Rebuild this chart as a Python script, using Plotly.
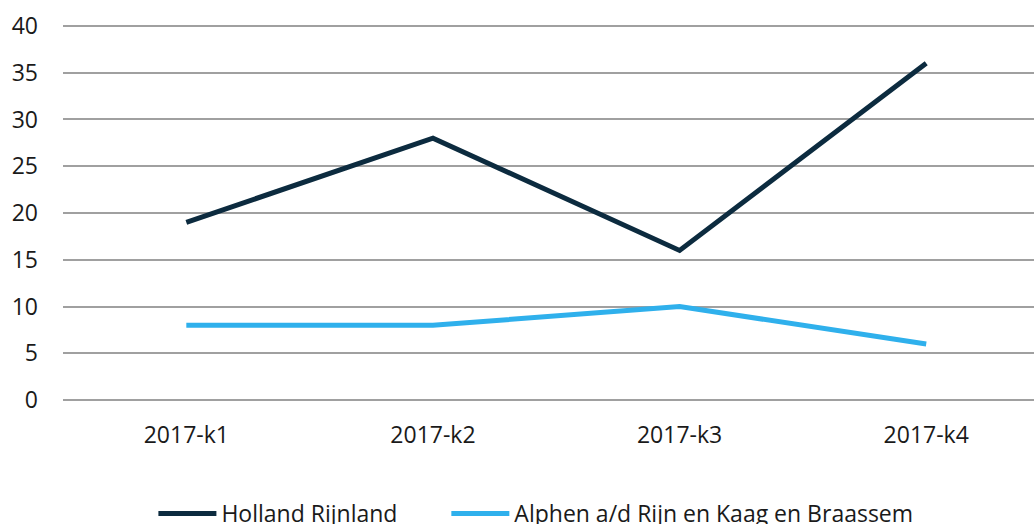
import plotly.graph_objects as go

categories = ["2017-k1", "2017-k2", "2017-k3", "2017-k4"]
holland_rijnland = [19, 28, 16, 36]
alphen = [8, 8, 10, 6]
y_ticks = [0, 5, 10, 15, 20, 25, 30, 35, 40]

fig = go.Figure()
fig.add_trace(go.Scatter(x=categories, y=holland_rijnland, mode="lines",
                         name="Holland Rijnland", legend="legend",
                         line=dict(color="#0c2b3f", width=5)))
fig.add_trace(go.Scatter(x=categories, y=alphen, mode="lines",
                         name="Alphen a/d Rijn en Kaag en Braassem", legend="legend2",
                         line=dict(color="#2fb0ec", width=5)))

legend_common = dict(orientation="h", xanchor="left", y=-0.295, yanchor="middle",
                     font=dict(size=23, color="#1a1a1a"), itemwidth=58,
                     bgcolor="rgba(0,0,0,0)")

fig.update_layout(
    width=1034, height=524,
    margin=dict(l=63, r=0, t=24, b=122, autoexpand=False),
    paper_bgcolor="white", plot_bgcolor="white",
    font=dict(family="Open Sans", size=23, color="#1a1a1a"),
    showlegend=True,
    legend=dict(x=0.0931, **legend_common),
    legend2=dict(x=0.3948, **legend_common),
)
fig.update_xaxes(type="category", range=[-0.5, 3.437], showgrid=False,
                 showline=False, zeroline=False, ticks="", automargin=False,
                 ticklabelstandoff=17)
fig.update_yaxes(range=[-0.2, 40.2], tickvals=y_ticks, showgrid=True,
                 gridcolor="#a0a0a0", gridwidth=1.5, zeroline=False,
                 showline=False, ticks="", automargin=False,
                 ticklabelstandoff=24)

fig.write_html("out.html", config={"displayModeBar": False},
               post_script="document.body.style.margin='0px';document.body.style.overflow='hidden';")
